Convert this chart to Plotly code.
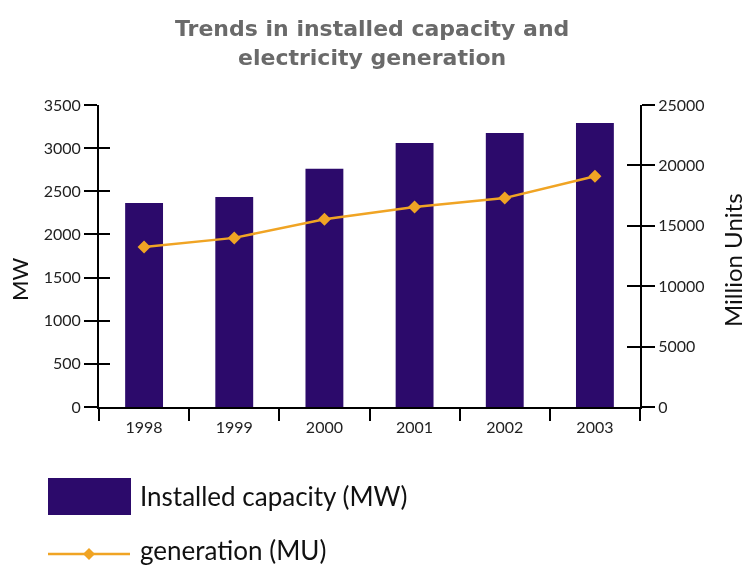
import plotly.graph_objects as go

years = ["1998", "1999", "2000", "2001", "2002", "2003"]
capacity_mw = [2365, 2435, 2760, 3060, 3175, 3290]
generation_mu = [13250, 14000, 15550, 16550, 17300, 19100]

mw_ticks = [0, 500, 1000, 1500, 2000, 2500, 3000, 3500]
mu_ticks = [0, 5000, 10000, 15000, 20000, 25000]
mu_labels = [str(v) for v in mu_ticks]

BAR = "#2c0a6b"
LINE = "#f0a424"
TXT = "#222222"
FONT = "Lato"

W, H = 746, 565
L, R, T, B = 99, 106, 105, 158
PW, PH = W - L - R, H - T - B


def px(xp):
    return (xp - L) / PW


def py(yp):
    return (H - B - yp) / PH


fig = go.Figure()
fig.add_trace(go.Bar(x=years, y=capacity_mw, marker=dict(color=BAR, line=dict(width=0)),
                     width=0.42, name="Installed capacity (MW)", yaxis="y"))
fig.add_trace(go.Scatter(x=years, y=generation_mu, mode="lines+markers",
                         line=dict(color=LINE, width=2.5),
                         marker=dict(symbol="diamond", size=10, color=LINE),
                         name="generation (MU)", yaxis="y2"))
# invisible helpers so that the inner tick axes get drawn
fig.add_trace(go.Scatter(x=years, y=capacity_mw, mode="markers", opacity=0,
                         hoverinfo="skip", yaxis="y3", showlegend=False))
fig.add_trace(go.Scatter(x=years, y=generation_mu, mode="markers", opacity=0,
                         hoverinfo="skip", yaxis="y4", showlegend=False))

tickfont = dict(family=FONT, size=16, color=TXT)

fig.update_layout(
    width=W, height=H,
    margin=dict(l=L, r=R, t=T, b=B),
    paper_bgcolor="white", plot_bgcolor="white",
    showlegend=False,
    xaxis=dict(type="category", range=[-0.5, 5.5], tickson="boundaries",
               ticks="outside", ticklen=12, tickwidth=2, tickcolor="black",
               ticklabelstandoff=5,
               showline=True, linecolor="black", linewidth=2, mirror=False,
               showgrid=False, zeroline=False, tickfont=tickfont),
    yaxis=dict(range=[0, 3500], tickvals=mw_ticks, ticks="outside", ticklen=13,
               tickwidth=2, tickcolor="black", showline=True, linecolor="black",
               linewidth=2, showgrid=False, zeroline=False, tickfont=tickfont),
    yaxis2=dict(range=[0, 25000], tickvals=mu_ticks, ticktext=mu_labels,
                overlaying="y", side="right",
                ticks="outside", ticklen=13, tickwidth=2, tickcolor="black",
                showline=True, linecolor="black", linewidth=2, showgrid=False,
                zeroline=False, tickfont=tickfont),
    yaxis3=dict(range=[0, 3500], tickvals=mw_ticks, overlaying="y", side="left",
                ticks="inside", ticklen=11, tickwidth=2, tickcolor="black",
                showticklabels=False, showline=False, showgrid=False, zeroline=False),
    yaxis4=dict(range=[0, 25000], tickvals=mu_ticks, overlaying="y", side="right",
                ticks="inside", ticklen=13, tickwidth=2, tickcolor="black",
                showticklabels=False, showline=False, showgrid=False, zeroline=False),
)

# chart title
fig.add_annotation(text="Trends in installed capacity and<br>electricity generation",
                   xref="paper", yref="paper", x=px(372), y=py(43),
                   xanchor="center", yanchor="middle", showarrow=False,
                   font=dict(family="DejaVu Sans", size=22, color="#6a6a6a", weight="bold"))

# axis titles
fig.add_annotation(text="MW", xref="paper", yref="paper", x=px(19), y=py(280),
                   textangle=-90, showarrow=False, xanchor="center", yanchor="middle",
                   font=dict(family=FONT, size=22, color="#111"))
fig.add_annotation(text="Million Units", xref="paper", yref="paper", x=px(732), y=py(260),
                   textangle=-90, showarrow=False, xanchor="center", yanchor="middle",
                   font=dict(family=FONT, size=24, color="#111"))

# left axis runs a little below the baseline
fig.add_shape(type="line", xref="paper", yref="paper", x0=0, x1=0, y0=0, y1=py(421),
              line=dict(color="black", width=2))

# hand-drawn legend
fig.add_shape(type="rect", xref="paper", yref="paper", x0=px(48), x1=px(131),
              y0=py(515), y1=py(478), fillcolor=BAR, line=dict(width=0))
fig.add_annotation(text="Installed capacity (MW)", xref="paper", yref="paper",
                   x=px(138), y=py(496), xanchor="left", yanchor="middle", showarrow=False,
                   font=dict(family=FONT, size=26, color="#111"))
fig.add_shape(type="line", xref="paper", yref="paper", x0=px(48), x1=px(130),
              y0=py(554), y1=py(554), line=dict(color=LINE, width=2.5))
fig.add_shape(type="path", xref="paper", yref="paper",
              path=f"M {px(83)},{py(554)} L {px(89)},{py(548)} L {px(95)},{py(554)} L {px(89)},{py(560)} Z",
              fillcolor=LINE, line=dict(width=0))
fig.add_annotation(text="generation (MU)", xref="paper", yref="paper",
                   x=px(138), y=py(550), xanchor="left", yanchor="middle", showarrow=False,
                   font=dict(family=FONT, size=26, color="#111"))

fig.write_html("out.html")
